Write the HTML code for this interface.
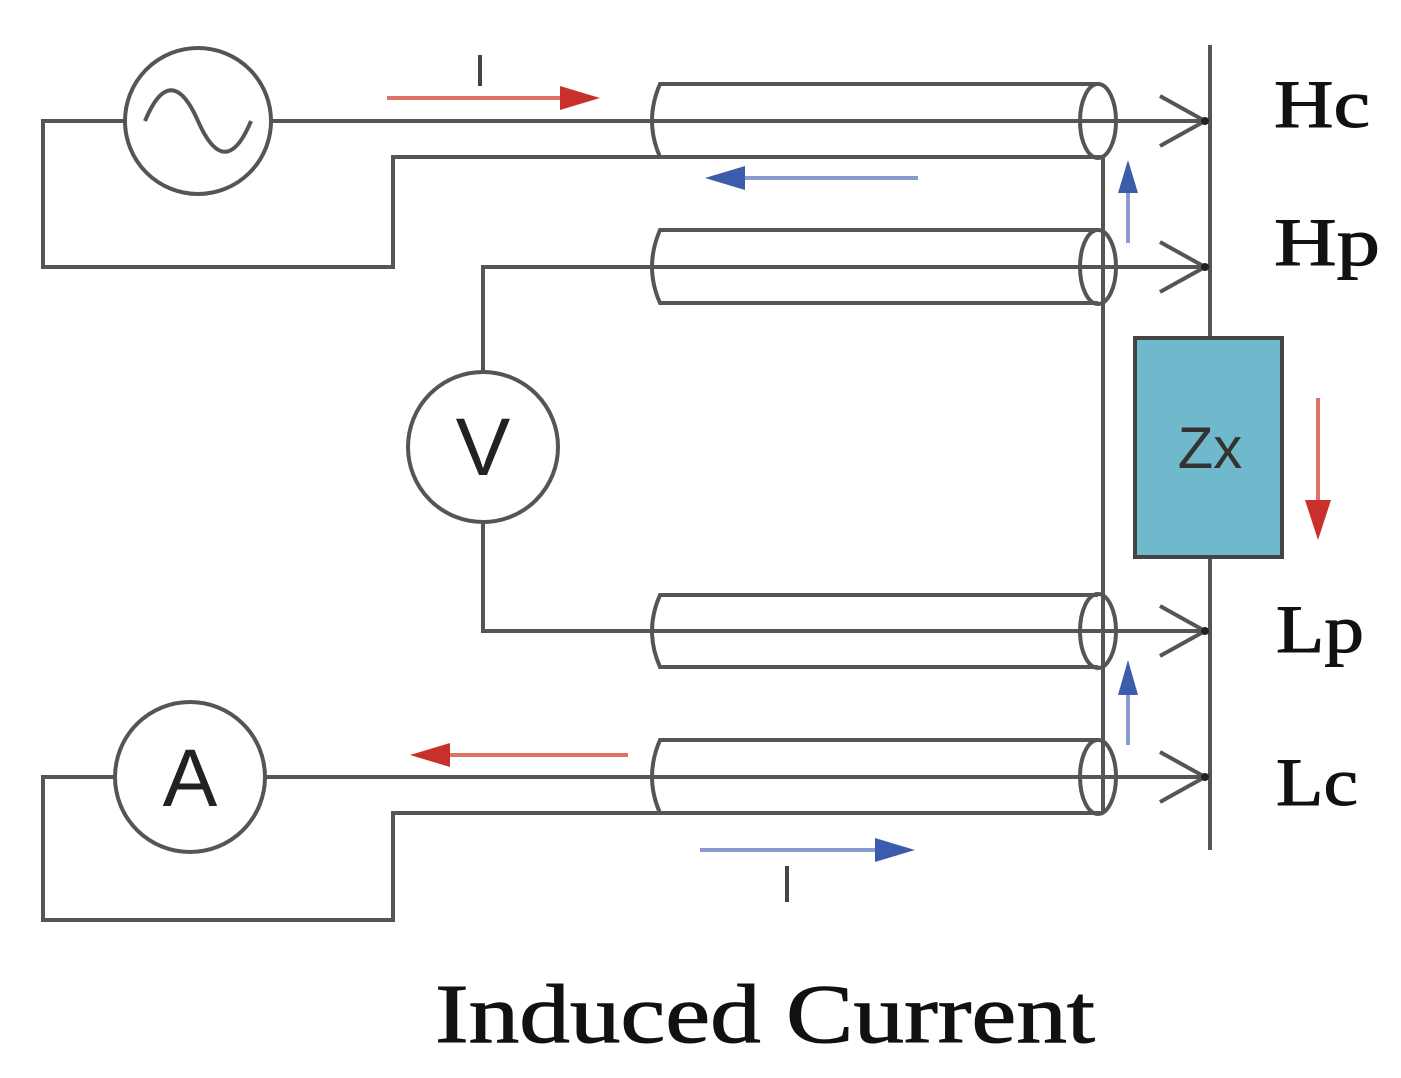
<!DOCTYPE html>
<html><head><style>html,body{margin:0;padding:0;background:#fff}svg{display:block}</style></head>
<body>
<svg width="1401" height="1078" viewBox="0 0 1401 1078" xmlns="http://www.w3.org/2000/svg">
<g stroke="#555" stroke-width="4" fill="none">
<line x1="1210" y1="45" x2="1210" y2="850"/>
<polyline points="125,121 43,121 43,267 393,267 393,157 1103,157"/>
<line x1="271" y1="121" x2="1205" y2="121"/>
<circle cx="198" cy="121" r="73" fill="#fff"/>
<path d="M145,121 C162,80 180,80 198,121 C216,162 234,162 251,121"/>
<path d="M1098,84 L660,84 Q644,121 660,157 L1098,157"/>
<ellipse cx="1098" cy="121" rx="18" ry="37"/>
<path d="M1098,230 L660,230 Q644,267 660,303 L1098,303"/>
<ellipse cx="1098" cy="267" rx="18" ry="37"/>
<polyline points="1205,267 483,267 483,372"/>
<circle cx="483" cy="447" r="75" fill="#fff"/>
<polyline points="483,522 483,631 1205,631"/>
<path d="M1098,595 L660,595 Q644,631 660,667 L1098,667"/>
<ellipse cx="1098" cy="631" rx="18" ry="37"/>
<path d="M1098,740 L660,740 Q644,777 660,813 L1098,813"/>
<ellipse cx="1098" cy="777" rx="18" ry="37"/>
<polyline points="115,777 43,777 43,920 393,920 393,813 1103,813"/>
<line x1="265" y1="777" x2="1205" y2="777"/>
<circle cx="190" cy="777" r="75" fill="#fff"/>
<line x1="1103" y1="157" x2="1103" y2="813"/>
<polyline points="1160,96 1205,121 1160,146"/>
<polyline points="1160,242 1205,267 1160,292"/>
<polyline points="1160,606 1205,631 1160,656"/>
<polyline points="1160,752 1205,777 1160,802"/>
</g>
<g fill="#222"><circle cx="1205" cy="121" r="4"/><circle cx="1205" cy="267" r="4"/><circle cx="1205" cy="631" r="4"/><circle cx="1205" cy="777" r="4"/></g>
<rect x="1135" y="338" width="147" height="219" fill="#70b8cb" stroke="#444" stroke-width="4"/>
<text x="1210" y="468" font-family="Liberation Sans, sans-serif" font-size="58" text-anchor="middle" fill="#333">Zx</text>
<text x="483" y="475" font-family="Liberation Sans, sans-serif" font-size="82" text-anchor="middle" fill="#222">V</text>
<text x="190" y="806" font-family="Liberation Sans, sans-serif" font-size="82" text-anchor="middle" fill="#222">A</text>
<g stroke-width="4">
<line x1="387" y1="98" x2="565" y2="98" stroke="#e07068"/>
<path d="M560,86 L600,98 L560,110z" fill="#c8312b"/>
<line x1="918" y1="178" x2="740" y2="178" stroke="#8a9ccf"/>
<path d="M745,166 L705,178 L745,190z" fill="#3b5bab"/>
<line x1="1128" y1="243" x2="1128" y2="190" stroke="#8a9ccf"/>
<path d="M1118,193 L1128,160 L1138,193z" fill="#3b5bab"/>
<line x1="1318" y1="398" x2="1318" y2="505" stroke="#e07068"/>
<path d="M1305,500 L1318,540 L1331,500z" fill="#c8312b"/>
<line x1="1128" y1="745" x2="1128" y2="692" stroke="#8a9ccf"/>
<path d="M1118,695 L1128,660 L1138,695z" fill="#3b5bab"/>
<line x1="628" y1="755" x2="445" y2="755" stroke="#e07068"/>
<path d="M450,743 L410,755 L450,767z" fill="#c8312b"/>
<line x1="700" y1="850" x2="880" y2="850" stroke="#8a9ccf"/>
<path d="M875,838 L915,850 L875,862z" fill="#3b5bab"/>
<line x1="480" y1="55" x2="480" y2="86" stroke="#444"/>
<line x1="787" y1="866" x2="787" y2="902" stroke="#444"/>
</g>
<g font-family="Liberation Serif, serif" font-size="68" fill="#111" stroke="#111" stroke-width="1">
<text x="1274" y="127" textLength="96" lengthAdjust="spacingAndGlyphs">Hc</text>
<text x="1274" y="265" textLength="106" lengthAdjust="spacingAndGlyphs">Hp</text>
<text x="1276" y="652" textLength="88" lengthAdjust="spacingAndGlyphs">Lp</text>
<text x="1276" y="805" textLength="82" lengthAdjust="spacingAndGlyphs">Lc</text>
</g>
<text x="435" y="1042" font-family="Liberation Serif, serif" font-size="84" fill="#111" stroke="#111" stroke-width="1" textLength="660" lengthAdjust="spacingAndGlyphs">Induced Current</text>
</svg>
</body></html>
